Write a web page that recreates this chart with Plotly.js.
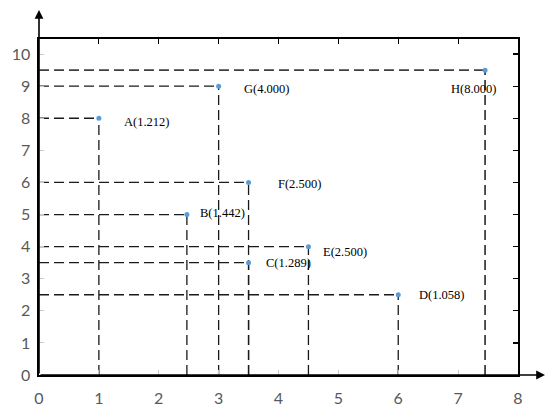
<!DOCTYPE html>
<html>
<head>
<meta charset="utf-8">
<script src="https://cdn.plot.ly/plotly-3.0.1.min.js"></script>
<style>html,body{margin:0;padding:0;background:#fff}#chart{width:550px;height:412px}</style>
</head>
<body>
<div id="chart"></div>
<script>
// ---- data ----
const pointNames = ['A', 'B', 'C', 'D', 'E', 'F', 'G', 'H'];
const pointX = [1, 2.47, 3.5, 6, 4.5, 3.5, 3, 7.45];
const pointY = [8, 5, 3.5, 2.5, 4, 6, 9, 9.5];
const pointValues = ['1.212', '1.442', '1.289', '1.058', '2.500', '2.500', '4.000', '8.000'];
const xTicks = [0, 1, 2, 3, 4, 5, 6, 7, 8];
const yTicks = [0, 1, 2, 3, 4, 5, 6, 7, 8, 9, 10];

// ---- label placement (style) ----
const labelPlace = {
  A: {xanchor: 'left', xshift: 23, yshift: -4},
  B: {xanchor: 'left', xshift: 11, yshift: 2},
  C: {xanchor: 'left', xshift: 15, yshift: 0},
  D: {xanchor: 'left', xshift: 19, yshift: 0},
  E: {xanchor: 'left', xshift: 13, yshift: -5},
  F: {xanchor: 'left', xshift: 27, yshift: -2},
  G: {xanchor: 'left', xshift: 23, yshift: -3},
  H: {xanchor: 'center', xshift: -12, yshift: -19}
};

const traces = [];
pointNames.forEach((n, i) => {
  const isH = n === 'H';
  const ln = {color: isH ? '#404040' : '#1a1a1a', width: isH ? 1.8 : 1.3, dash: '10px,5px'};
  // horizontal guide from the y axis to the point
  traces.push({
    type: 'scatter', mode: 'lines',
    x: [0, pointX[i]], y: [pointY[i], pointY[i]],
    line: ln, hoverinfo: 'skip', showlegend: false
  });
  // vertical guide from the x axis to the point
  traces.push({
    type: 'scatter', mode: 'lines',
    x: [pointX[i], pointX[i]], y: [0, pointY[i]],
    line: ln, hoverinfo: 'skip', showlegend: false
  });
});
traces.push({
  type: 'scatter', mode: 'markers',
  x: pointX, y: pointY,
  marker: {color: '#5b9bd5', size: 5},
  showlegend: false
});

const annotations = pointNames.map((n, i) => ({
  x: pointX[i], y: pointY[i], xref: 'x', yref: 'y',
  text: n + '(' + pointValues[i] + ')',
  showarrow: false,
  xanchor: labelPlace[n].xanchor, yanchor: 'middle',
  xshift: labelPlace[n].xshift, yshift: labelPlace[n].yshift,
  font: {family: 'Liberation Serif, Times New Roman, serif', size: 12.5, color: '#000'}
}));
// axis arrows
annotations.push({
  xref: 'paper', yref: 'paper', x: 1.0564, y: 0, ax: -506, ay: 0,
  text: '', showarrow: true, arrowhead: 2, arrowsize: 1.1, arrowwidth: 1.6, arrowcolor: '#000', standoff: 0
});
annotations.push({
  xref: 'paper', yref: 'paper', x: 0, y: 1.0863, ax: 0, ay: 365,
  text: '', showarrow: true, arrowhead: 2, arrowsize: 1.1, arrowwidth: 1.6, arrowcolor: '#000', standoff: 0
});

const tickFont = {family: 'Lato, Carlito, sans-serif', size: 16, color: '#595959'};

const layout = {
  width: 550, height: 412,
  margin: {l: 39, r: 32, t: 39, b: 37},
  paper_bgcolor: '#fff', plot_bgcolor: '#fff',
  showlegend: false,
  xaxis: {
    range: [0, 8], tickvals: xTicks, ticktext: xTicks.map(String),
    showgrid: false, zeroline: false,
    showline: true, linecolor: '#000', linewidth: 1.6,
    ticks: 'inside', ticklen: 5, tickcolor: '#c8c8c8', tickwidth: 1,
    tickfont: tickFont, ticklabelstandoff: 8
  },
  yaxis: {
    range: [0, 10.47], tickvals: yTicks, ticktext: yTicks.map(String),
    showgrid: false, zeroline: false,
    showline: true, linecolor: '#000', linewidth: 1.6,
    ticks: 'inside', ticklen: 5, tickcolor: '#c8c8c8', tickwidth: 1,
    tickfont: tickFont, ticklabelstandoff: 4
  },
  xaxis2: {
    range: [0, 8], tickvals: xTicks, overlaying: 'x', side: 'top', anchor: 'y',
    showgrid: false, zeroline: false, showticklabels: false,
    showline: true, linecolor: '#000', linewidth: 1.6,
    ticks: 'inside', ticklen: 5, tickcolor: '#000', tickwidth: 1.2
  },
  yaxis2: {
    range: [0, 10.47], tickvals: yTicks, overlaying: 'y', side: 'right', anchor: 'x',
    showgrid: false, zeroline: false, showticklabels: false,
    showline: true, linecolor: '#000', linewidth: 1.6,
    ticks: 'inside', ticklen: 5, tickcolor: '#000', tickwidth: 1.2
  },
  annotations: annotations
};
// dummy trace so secondary axes render
traces.push({type: 'scatter', mode: 'markers', x: [null], y: [null], xaxis: 'x2', yaxis: 'y2', showlegend: false, hoverinfo: 'skip'});

Plotly.newPlot('chart', traces, layout, {displayModeBar: false, staticPlot: true});
</script>
</body>
</html>
